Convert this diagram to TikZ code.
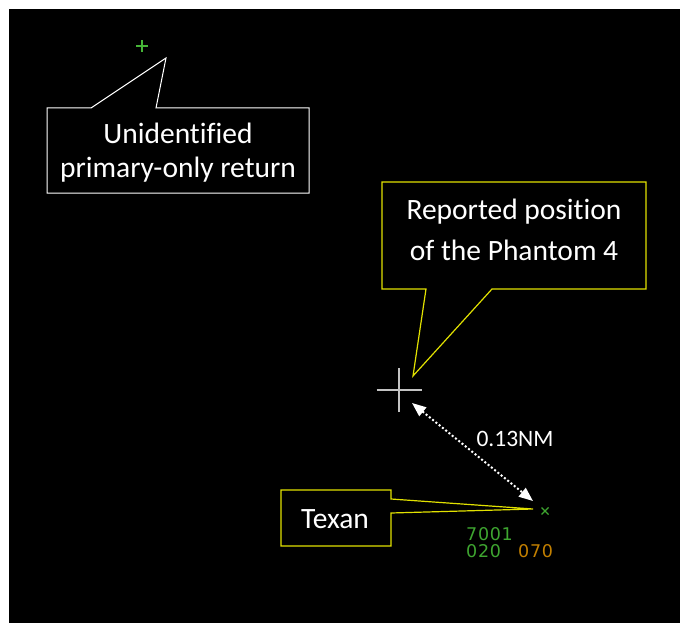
\documentclass[tikz,border=0pt]{standalone}
\usepackage{fontspec}
\setmainfont[Ligatures=NoCommon]{Carlito}
\newfontfamily\radarfont[LetterSpace=4]{DejaVu Sans}
\usetikzlibrary{arrows.meta,calc}

\definecolor{calloutyellow}{RGB}{225,225,0}
\definecolor{radargreen}{RGB}{62,165,48}
\definecolor{plusgreen}{RGB}{70,180,55}
\definecolor{radarorange}{RGB}{195,128,0}
\definecolor{crossgrey}{RGB}{195,195,195}

\tikzset{
  label text/.style={text=white, inner sep=0pt, anchor=base,
    font=\fontsize{29.5}{34}\selectfont},
  small text/.style={text=white, inner sep=0pt, anchor=base,
    font=\fontsize{23.5}{28}\selectfont},
  radar text/.style={inner sep=0pt, anchor=base west,
    font=\radarfont\fontsize{17.5}{18}\selectfont},
  white callout/.style={draw=white, line width=1pt, line join=miter},
  yellow callout/.style={draw=calloutyellow, line width=1.2pt, line join=miter},
  dist arrow/.style={white, line width=2pt, dash pattern=on 2pt off 2.2pt,
    {Triangle[length=14pt,width=11pt]}-{Triangle[length=14pt,width=11pt]}},
}

\begin{document}
\begin{tikzpicture}[x=1pt,y=-1pt]
  % canvas: white margin on top and left, black radar screen
  \useasboundingbox (0,0) rectangle (680,623);
  \fill[white] (0,0) rectangle (680,623);
  \fill[black] (9,9) rectangle (680,623);

  % primary-only return
  \coordinate (primary) at (142,46);
  \draw[plusgreen, line width=2pt] ([xshift=-6pt]primary) -- ([xshift=6pt]primary)
                                  ([yshift=-6pt]primary) -- ([yshift=6pt]primary);

  % callout for the unidentified return
  \coordinate (uTip) at (166,58);
  \draw[white callout] (91,108) -- (uTip) -- (156,108) -- (309,108)
    -- (309,193) -- (47,193) -- (47,108) -- cycle;
  \node[label text] (uLineA) at (178,143) {Unidentified};
  \node[label text] (uLineB) at (178,178) {primary-only return};

  % reported position of the drone
  \coordinate (phantom) at (399,390);
  \draw[crossgrey, line width=2pt] ([xshift=-22.5pt]phantom) -- ([xshift=22.5pt]phantom)
                                  ([yshift=-22pt]phantom) -- ([yshift=22pt]phantom);

  % callout for the reported position
  \coordinate (pTip) at (413,376);
  \draw[yellow callout] (426,289) -- (pTip) -- (492,289) -- (646,289)
    -- (646,182) -- (382,182) -- (382,289) -- cycle;
  \node[label text] (pLineA) at (514,219.5) {Reported position};
  \node[label text] (pLineB) at (514,260.5) {of the Phantom 4};

  % Texan track symbol and data block
  \coordinate (texan) at (545,511);
  \draw[radargreen, line width=1.3pt] ($(texan)+(-3.5,-3.5)$) -- ($(texan)+(3.5,3.5)$)
                                     ($(texan)+(-3.5,3.5)$) -- ($(texan)+(3.5,-3.5)$);
  \node[radar text, text=radargreen] (squawk) at (466,540.5) {7001};
  \node[radar text, text=radargreen] (level) at (466,557) {020};
  \node[radar text, text=radarorange] (speed) at (518,557) {070};

  % callout for the Texan
  \coordinate (tTip) at (533,509);
  \draw[yellow callout] (391,499) -- (tTip) -- (391,513) -- (391,546)
    -- (281,546) -- (281,490) -- (391,490) -- cycle;
  \node[label text] (tLabel) at (335,528) {Texan};

  % separation between reported position and Texan
  \coordinate (sepA) at (412,403);
  \coordinate (sepB) at (533,501);
  \draw[dist arrow] (sepA) -- (sepB);
  \node[small text] (sepLabel) at (515,446) {0.13NM};
\end{tikzpicture}
\end{document}
